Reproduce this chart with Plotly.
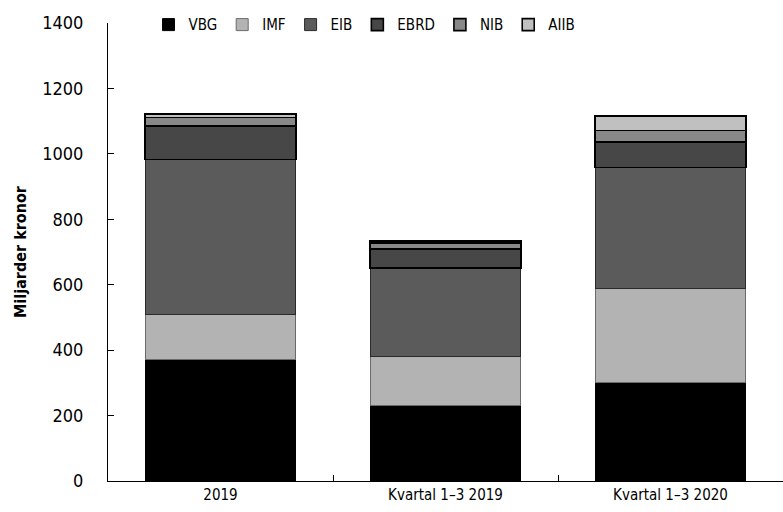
import plotly.graph_objects as go

categories = ["2019", "Kvartal 1–3 2019", "Kvartal 1–3 2020"]
series_names = ["VBG", "IMF", "EIB", "EBRD", "NIB", "AIIB"]
vbg = [370, 230, 300]
imf = [138, 152, 287]
eib = [475, 269, 371]
ebrd = [102, 58, 79]
nib = [26, 18, 35]
aiib = [11, 6, 43]
y_ticks = [0, 200, 400, 600, 800, 1000, 1200, 1400]

series_values = [vbg, imf, eib, ebrd, nib, aiib]
colors = ["#000000", "#b3b3b3", "#5b5b5b", "#474747", "#888888", "#c0c0c0"]
line_colors = ["#000000", "#6a6a6a", "#2a2a2a", "#000000", "#000000", "#000000"]
line_widths = [1, 1, 1, 1.6, 1.6, 1.6]

FONT = "DejaVu Sans Condensed, Liberation Sans Narrow, Arial Narrow, sans-serif"

fig = go.Figure()
for name, vals, c, lc, lw in zip(series_names, series_values, colors, line_colors, line_widths):
    fig.add_trace(go.Bar(
        x=categories, y=vals, name=name,
        marker=dict(color=c, line=dict(color=lc, width=lw)),
    ))

fig.update_layout(
    barmode="stack",
    bargap=0.33,
    width=783, height=512,
    margin=dict(l=108, r=0, t=23, b=31, autoexpand=False),
    paper_bgcolor="white", plot_bgcolor="white",
    font=dict(family=FONT, color="black", size=14),
    showlegend=True,
    legend=dict(
        orientation="h", x=0.06, y=1.032, xanchor="left", yanchor="top",
        font=dict(size=15, family=FONT), itemwidth=30,
        traceorder="normal", bgcolor="rgba(0,0,0,0)",
        tracegroupgap=0, itemclick=False,
    ),
    xaxis=dict(
        showline=True, linecolor="black", linewidth=1,
        ticks="inside", tickson="boundaries", ticklen=6, tickcolor="black",
        tickfont=dict(size=15, family=FONT),
        showgrid=False, zeroline=False, automargin=False,
        range=[-0.5, 2.5],
    ),
    yaxis=dict(
        range=[0, 1400], tickvals=y_ticks,
        showline=True, linecolor="black", linewidth=1,
        ticks="inside", ticklen=6, tickcolor="black",
        ticklabelstandoff=20,
        tickfont=dict(size=18, family=FONT),
        showgrid=False, zeroline=False, automargin=False,
        title=dict(text="<b>Miljarder kronor</b>", font=dict(size=16, family=FONT), standoff=11),
    ),
)

fig.write_html(
    "out.html",
    config={"displayModeBar": False},
    post_script="document.body.style.margin='0';document.body.style.overflow='hidden';",
)
